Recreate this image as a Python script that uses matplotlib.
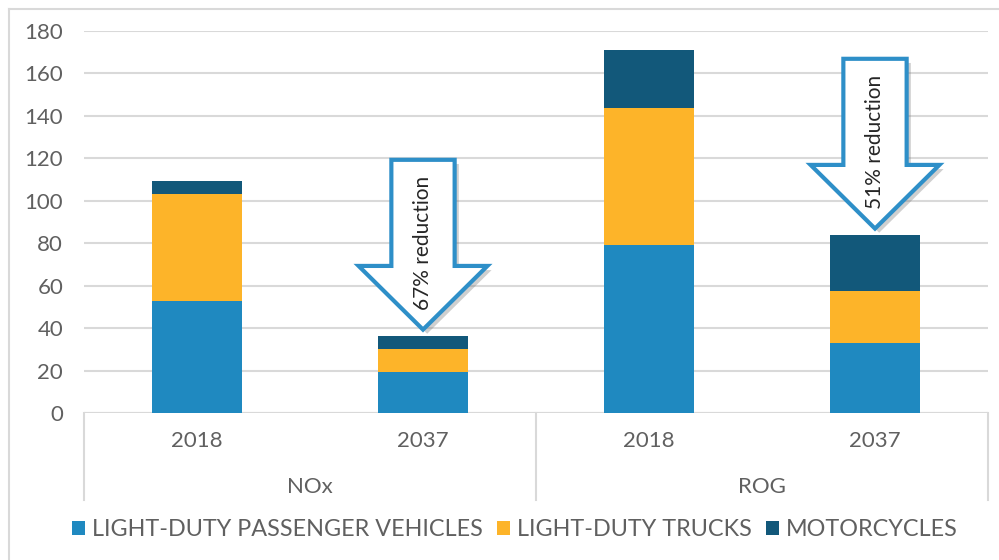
import matplotlib
matplotlib.use("Agg")
import matplotlib.pyplot as plt
import numpy as np
from matplotlib.patches import Polygon
from matplotlib.lines import Line2D
import matplotlib.patheffects as pe

plt.rcParams['font.family'] = ['Lato', 'DejaVu Sans']

# ---- data ----
groups = ["NOx", "NOx", "ROG", "ROG"]
group_names = ["NOx", "ROG"]
years = ["2018", "2037", "2018", "2037"]
series_names = ["LIGHT-DUTY PASSENGER VEHICLES", "LIGHT-DUTY TRUCKS", "MOTORCYCLES"]
passenger = [52.8, 19.3, 79.2, 33.0]
trucks = [50.4, 10.9, 64.5, 24.5]
motorcycles = [6.0, 6.1, 27.4, 26.4]
reduction_labels = ["67% reduction", "51% reduction"]
reduction_bars = [1, 3]
yticks = [0, 20, 40, 60, 80, 100, 120, 140, 160, 180]

colors = ["#1F89C0", "#FDB429", "#12587A"]
txt_color = "#606060"
grid_color = "#D9D9D9"
FS = 16

W, H = 999, 560
fig = plt.figure(figsize=(W / 100, H / 100), dpi=100)
ax = fig.add_axes([84 / W, 1 - 413 / H, (988 - 84) / W, (413 - 31) / H])

x = np.arange(len(years))
series = [passenger, trucks, motorcycles]
bottom = np.zeros(len(years))
for vals, c, name in zip(series, colors, series_names):
    ax.bar(x, vals, width=0.4, bottom=bottom, color=c, label=name, zorder=3)
    bottom += np.array(vals)
totals = bottom

ax.set_xlim(-0.5, len(years) - 0.5)
ax.set_ylim(0, 180)
ax.set_yticks(yticks)
ax.set_yticklabels([str(t) for t in yticks], fontsize=FS, color=txt_color)
ax.tick_params(axis='y', length=0, pad=15)
ax.set_xticks([])
ax.yaxis.grid(True, color=grid_color, linewidth=1.5, zorder=0)
for s in ax.spines.values():
    s.set_visible(False)
ax.axhline(0, color=grid_color, linewidth=1.5, zorder=1)

# category axis below
trans = ax.get_xaxis_transform()
sep_bottom = -(500 - 413) / (413 - 31)
for xs in [-0.5, 1.5, 3.5]:
    ax.add_line(Line2D([xs, xs], [0, sep_bottom], transform=trans, color=grid_color,
                       linewidth=1.5, clip_on=False))
y_year = -(441 - 413) / (413 - 31)
y_group = -(487 - 413) / (413 - 31)
for xi, yr in zip(x, years):
    ax.text(xi, y_year, yr, transform=trans, ha='center', va='center',
            fontsize=FS, color=txt_color)
for gi, g in enumerate(group_names):
    ax.text(0.5 + 2 * gi, y_group, g, transform=trans, ha='center', va='center',
            fontsize=FS, color=txt_color)

# reduction arrows
for bi, lab in zip(reduction_bars, reduction_labels):
    tip = totals[bi] + 3
    base = tip + 30
    top = tip + 80
    cx = x[bi]
    sw, hw = 0.14, 0.285
    pts = [(cx - sw, top), (cx + sw, top), (cx + sw, base), (cx + hw, base),
           (cx, tip), (cx - hw, base), (cx - sw, base)]
    poly = Polygon(pts, closed=True, facecolor='white', edgecolor='#2E8FC8',
                   linewidth=3, joinstyle='miter', zorder=5,
                   path_effects=[pe.SimplePatchShadow(offset=(3, -3), alpha=0.35,
                                                      shadow_rgbFace='#777777'),
                                 pe.Normal()])
    ax.add_patch(poly)
    ax.text(cx, tip + 41, lab, rotation=90, ha='center', va='center',
            fontsize=15, color='#262626', zorder=6)

# legend
handles, labels = ax.get_legend_handles_labels()
fig.legend(handles, labels, loc='center', bbox_to_anchor=(515 / W, 1 - 530 / H),
           ncol=3, frameon=False, fontsize=16.8, labelcolor=txt_color,
           handlelength=0.55, handleheight=0.55, handletextpad=0.3, columnspacing=0.6)

# outer chart border (cropped)
fig.add_artist(Line2D([9 / W, 9 / W], [0, 1 - 9 / H], transform=fig.transFigure,
                      color=grid_color, linewidth=1.5))
fig.add_artist(Line2D([9 / W, 1], [1 - 9 / H, 1 - 9 / H], transform=fig.transFigure,
                      color=grid_color, linewidth=1.5))

fig.savefig("out.png", dpi=100)
